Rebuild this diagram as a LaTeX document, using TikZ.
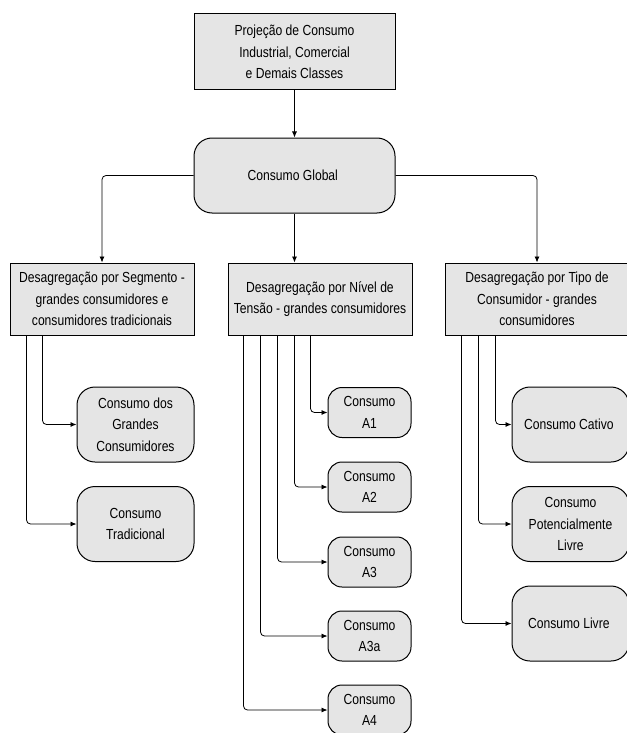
\documentclass[tikz,border=0pt]{standalone}
\usepackage{fontspec}
\setmainfont{Liberation Sans}[FakeStretch=0.83]
\usepackage{tikz}
\usetikzlibrary{shapes,arrows.meta,positioning}
\tikzset{
  every node/.style={
    font=\fontsize{14.6}{21.5}\selectfont,
    align=center
  },
  stage/.style={
    shape=rectangle,
    draw=black,
    line width=1pt,
    fill=gray!20,
    minimum width=184pt,
    minimum height=72pt,
    inner sep=2pt
  },
  hub/.style={
    shape=rectangle,
    rounded corners=18pt,
    draw=black,
    line width=1pt,
    fill=gray!20,
    minimum width=201pt,
    minimum height=75pt
  },
  demand/.style={
    shape=rectangle,
    rounded corners=18pt,
    draw=black,
    line width=1pt,
    fill=gray!20,
    minimum width=117pt,
    minimum height=75pt,
    inner sep=2pt
  },
  level/.style={
    shape=rectangle,
    rounded corners=14pt,
    draw=black,
    line width=1pt,
    fill=gray!20,
    minimum width=83pt,
    minimum height=50pt,
    inner sep=2pt
  },
  link/.style={
    draw=black,
    line width=0.8pt,
    rounded corners=4pt,
    -{Latex[length=6pt,width=5pt]}
  }
}

\begin{document}
\begin{tikzpicture}[x=1pt,y=-1pt]
    \useasboundingbox (0,0) rectangle (626,733);
    % top
    \node [stage, minimum width=201pt, minimum height=76pt] (proj) at (294.5,52) {
      Projeção de Consumo\\Industrial, Comercial\\e Demais Classes
    };
    \node [hub] (global) at (294.5,175.5) { Consumo Global };
    % second level
    \node [stage] (seg) at (102,299) {
      Desagregação por Segmento -\\grandes consumidores e\\consumidores tradicionais
    };
    \node [stage] (tensao) at (320,299) {
      Desagregação por Nível de\\Tensão - grandes consumidores
    };
    \node [stage] (tipo) at (537,299) {
      Desagregação por Tipo de\\Consumidor - grandes\\consumidores
    };
    % leaves
    \node [demand] (grandes) at (135.5,424.5) { Consumo dos\\Grandes\\Consumidores };
    \node [demand] (trad) at (135.5,524) { Consumo\\Tradicional };
    \node [level] (a1) at (369.5,412.5) { Consumo\\A1 };
    \node [level] (a2) at (369.5,487) { Consumo\\A2 };
    \node [level] (a3) at (369.5,562) { Consumo\\A3 };
    \node [level] (a3a) at (369.5,636) { Consumo\\A3a };
    \node [level] (a4) at (369.5,710) { Consumo\\A4 };
    \node [demand] (cativo) at (570.5,424.5) { Consumo Cativo };
    \node [demand] (potencial) at (570.5,524) { Consumo\\Potencialmente\\Livre };
    \node [demand] (livre) at (570.5,623.5) { Consumo Livre };
    % connectors
    \draw [link] (proj) -- (global);
    \draw [link] (global.west) -| (seg.north);
    \draw [link] (global.south) -- (global.south |- tensao.north);
    \draw [link] (global.east) -| (tipo.north);
    \foreach \leaf/\dx in {grandes/33, trad/17}
      \draw [link] ([xshift=\dx pt]seg.south west) |- (\leaf);
    \foreach \leaf/\dx in {a1/83, a2/67, a3/50, a3a/33, a4/16}
      \draw [link] ([xshift=\dx pt]tensao.south west) |- (\leaf);
    \foreach \leaf/\dx in {cativo/51, potencial/34, livre/17}
      \draw [link] ([xshift=\dx pt]tipo.south west) |- (\leaf);
\end{tikzpicture}
\end{document}
